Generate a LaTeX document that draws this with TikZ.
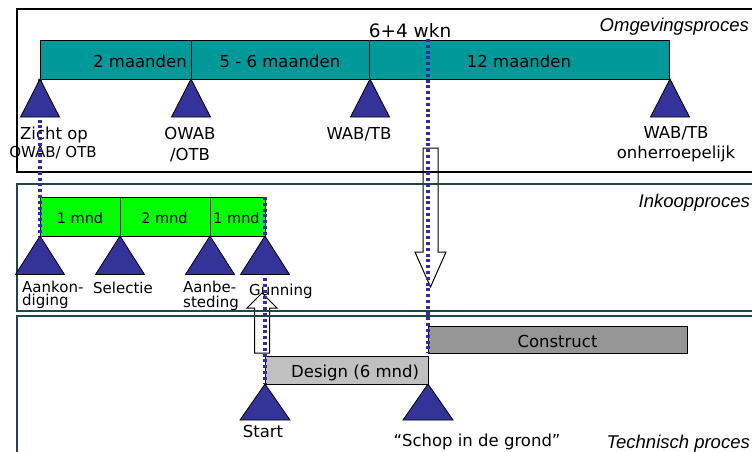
\documentclass[tikz,border=0pt]{standalone}
\usepackage{fontspec}
\setmainfont{DejaVu Sans}
\newfontfamily\procfont{Liberation Sans}
\definecolor{tealbar}{RGB}{0,153,153}
\definecolor{triblue}{RGB}{51,51,153}
\definecolor{greenbar}{RGB}{0,255,0}
\definecolor{designgrey}{RGB}{192,192,192}
\definecolor{constructgrey}{RGB}{150,150,150}
\definecolor{framedark}{RGB}{30,72,72}
\definecolor{dotblue}{RGB}{45,45,165}
\tikzset{
  seg/.style={draw=black, line width=1pt, rectangle, inner sep=0pt, anchor=north west},
  omseg/.style={seg, fill=tealbar, minimum height=38.5pt},
  inseg/.style={seg, fill=greenbar, minimum height=39pt},
  lbl/.style={inner sep=0pt, anchor=base, font=\fontsize{16.5}{19}\selectfont},
  smalllbl/.style={inner sep=0pt, anchor=base, font=\fontsize{15}{18}\selectfont},
  inlbl/.style={inner sep=0pt, anchor=base west, font=\fontsize{15}{18}\selectfont},
  proclbl/.style={inner sep=0pt, anchor=base east, font=\procfont\itshape\fontsize{18.5}{21}\selectfont},
  tri/.style={draw=black, line width=0.8pt, fill=triblue, line join=miter},
  frameA/.style={draw=black, line width=1.4pt},
  frameB/.style={draw=framedark, line width=1.4pt},
  dotline/.style={draw=dotblue, line width=3.2pt, dash pattern=on 3pt off 2.8pt},
  hollow/.style={draw=black, line width=1pt, fill=white, line join=miter}
}
\begin{document}
\begin{tikzpicture}[x=1pt,y=-1pt]
\useasboundingbox (0,0) rectangle (752,452);
\fill[white] (0,0) rectangle (752,452);

% ---- bars ----
\node[omseg, minimum width=151pt] (om1) at (40,40.5) {};
\node[omseg, minimum width=178pt] (om2) at (191,40.5) {};
\node[omseg, minimum width=300pt] (om3) at (369,40.5) {};
\node[inseg, minimum width=80pt] (in1) at (40,197) {};
\node[inseg, minimum width=90pt] (in2) at (120,197) {};
\node[inseg, minimum width=55pt] (in3) at (210,197) {};
\node[seg, fill=constructgrey, minimum width=259pt, minimum height=27pt] (construct) at (428,326) {};
\node[seg, fill=designgrey, minimum width=163pt, minimum height=28pt] (design) at (265,356) {};

% ---- bar texts ----
\node[lbl] (t2m) at (140,67) {2 maanden};
\node[lbl] (t56m) at (280,67) {5 - 6 maanden};
\node[lbl] (t12m) at (519,67) {12 maanden};
\node[inner sep=0pt, anchor=base, font=\fontsize{18.5}{21}\selectfont] (t64) at (410,38) {6+4 wkn};
\node[smalllbl, font=\fontsize{14.5}{17}\selectfont] (g1) at (80,223) {1 mnd};
\node[smalllbl, font=\fontsize{14.5}{17}\selectfont] (g2) at (164.5,223) {2 mnd};
\node[smalllbl, font=\fontsize{14.5}{17}\selectfont] (g3) at (236.5,223) {1 mnd};
\node[lbl, anchor=base west] (tdesign) at (291,377) {Design (6 mnd)};
\node[lbl] (tconstruct) at (557.5,347) {Construct};

% ---- milestone labels ----
\node[lbl] (zicht1) at (54,139) {Zicht op};
\node[smalllbl] (zicht2) at (53,157) {OWAB/ OTB};
\node[lbl] (owab1) at (190,139) {OWAB};
\node[lbl] (owab2) at (190,160) {/OTB};
\node[lbl] (wab1) at (359,139) {WAB/TB};
\node[lbl] (wab2) at (676,138) {WAB/TB};
\node[lbl] (onh) at (676,158) {onherroepelijk};
\node[inlbl] (aank1) at (22,292) {Aankon-};
\node[inlbl] (aank2) at (22,305.5) {diging};
\node[inlbl] (sel) at (93,293) {Selectie};
\node[inlbl] (aanb1) at (183,292) {Aanbe-};
\node[inlbl] (aanb2) at (183,307) {steding};
\node[inlbl] (gun) at (249,295) {Gunning};
\node[lbl] (start) at (263,437) {Start};
\node[lbl] (schop) at (477,446) {“Schop in de grond”};

\node[proclbl] (pOm) at (749,32) {Omgevingsproces};
\node[proclbl] (pIn) at (750,207) {Inkoopproces};
\node[proclbl] (pTe) at (750,448) {Technisch proces};

% ---- hollow arrows ----
\draw[hollow] (423,148) -- (438,148) -- (438,252) -- (446,252) -- (430.5,287) -- (415,252) -- (423,252) -- cycle;
\draw[hollow] (254.5,353) -- (254.5,308) -- (247,308) -- (262,293) -- (277,308) -- (269.5,308) -- (269.5,353) -- cycle;

% ---- frames ----
\draw[frameA] (770,9) -- (17,9) -- (17,172) -- (770,172);
\draw[frameB] (770,184) -- (17,184) -- (17,311) -- (770,311);
\draw[frameB] (770,316) -- (17,316) -- (17,470);

% ---- milestone coordinates ----
\coordinate (mZicht) at (40,79);
\coordinate (mOwab) at (191,79);
\coordinate (mWab) at (370,79);
\coordinate (mOnh) at (670,79);
\coordinate (mAank) at (40,236);
\coordinate (mSel) at (120,236);
\coordinate (mAanb) at (210,236);
\coordinate (mGun) at (265,236);
\coordinate (mStart) at (265,384);
\coordinate (mSchop) at (428,384);
\coordinate (gunTop) at (265,197);
\coordinate (wknTop) at (428,39);
\coordinate (conBot) at (428,353);

% ---- dotted alignment lines ----
\draw[dotline] (mZicht) -- (mAank);
\draw[dotline] (gunTop) -- (mStart);
\draw[dotline] (wknTop) -- (conBot);

% ---- triangles ----
\foreach \m in {mZicht,mOwab,mWab,mOnh}
  \draw[tri] (\m) -- ++(-19.5,38) -- ++(39,0) -- cycle;
\foreach \m in {mAank,mSel,mAanb,mGun}
  \draw[tri] (\m) -- ++(-24.5,38.5) -- ++(49,0) -- cycle;
\foreach \m in {mStart,mSchop}
  \draw[tri] (\m) -- ++(-25,36) -- ++(50,0) -- cycle;
\end{tikzpicture}
\end{document}
